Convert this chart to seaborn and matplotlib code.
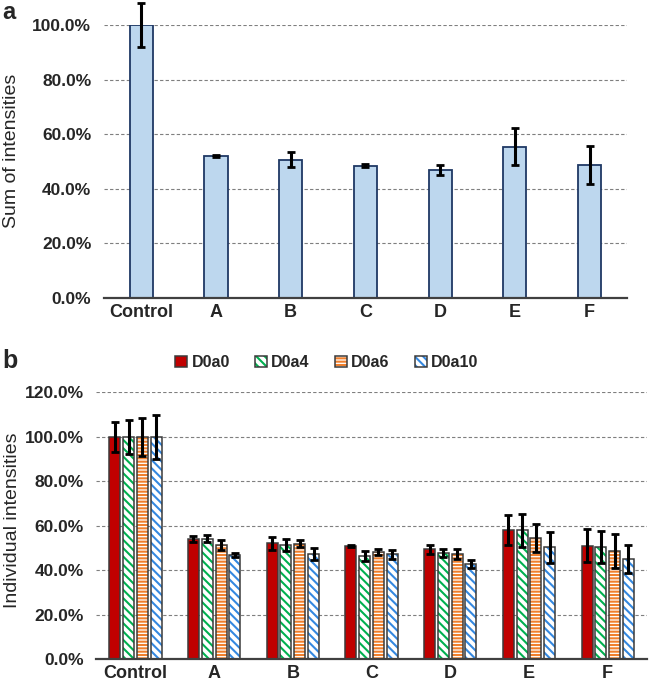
import matplotlib
matplotlib.use("Agg")
import matplotlib.pyplot as plt
from matplotlib.colors import to_rgba
from matplotlib.ticker import PercentFormatter, MultipleLocator
import pandas as pd
import seaborn as sns

# ---- Data (fraction of control) ----
GROUPS = ["Control", "A", "B", "C", "D", "E", "F"]

SUM_MEAN = [1.000, 0.520, 0.507, 0.485, 0.469, 0.554, 0.488]
SUM_ERR = [0.080, 0.005, 0.027, 0.005, 0.017, 0.067, 0.069]

SERIES = ["D0a0", "D0a4", "D0a6", "D0a10"]
D0A0_MEAN = [1.000, 0.541, 0.521, 0.508, 0.494, 0.580, 0.511]
D0A0_ERR = [0.068, 0.015, 0.030, 0.005, 0.020, 0.067, 0.075]
D0A4_MEAN = [1.000, 0.542, 0.512, 0.464, 0.476, 0.579, 0.503]
D0A4_ERR = [0.076, 0.016, 0.027, 0.022, 0.018, 0.075, 0.072]
D0A6_MEAN = [1.000, 0.514, 0.520, 0.481, 0.473, 0.545, 0.488]
D0A6_ERR = [0.086, 0.024, 0.015, 0.013, 0.023, 0.061, 0.076]
D0A10_MEAN = [1.000, 0.469, 0.473, 0.472, 0.428, 0.503, 0.449]
D0A10_ERR = [0.098, 0.008, 0.026, 0.020, 0.017, 0.068, 0.063]

# ---- Style ----
sns.set_style("white")
plt.rcParams["font.family"] = ["Liberation Sans", "DejaVu Sans"]
plt.rcParams["hatch.linewidth"] = 1.5

FILL = {"D0a0": "#C00000", "D0a4": "white", "D0a6": "white", "D0a10": "white"}
HATCH = {"D0a0": "", "D0a4": "\\\\\\\\", "D0a6": "-----", "D0a10": "\\\\\\\\"}
HATCH_COLOR = {"D0a0": "#C00000", "D0a4": "#00B050", "D0a6": "#F07F2C", "D0a10": "#3488E0"}
EDGE = "#3A3A3A"


def set_hatch_color(patch, color):
    # matplotlib ties hatch colour to the edge colour; keep the dark outline
    if hasattr(patch, "set_hatchcolor"):
        patch.set_hatchcolor(color)
    else:
        patch._hatch_color = to_rgba(color)
        patch.stale = True


def style_axis(ax, ylabel, top):
    ax.set_ylim(0, top)
    ax.set_xlim(-0.5, 6.5)
    ax.yaxis.set_major_locator(MultipleLocator(0.2))
    ax.yaxis.set_major_formatter(PercentFormatter(1.0, decimals=1))
    ax.yaxis.grid(True, linestyle=(0, (3, 2)), color="#7F7F7F", linewidth=0.8)
    ax.set_axisbelow(True)
    for side in ["left", "top", "right"]:
        ax.spines[side].set_visible(False)
    ax.spines["bottom"].set_color("#404040")
    ax.spines["bottom"].set_linewidth(1.6)
    ax.tick_params(axis="y", length=0, labelsize=12.5, pad=9)
    ax.tick_params(axis="x", length=0, labelsize=13, pad=4)
    for lbl in ax.get_xticklabels() + ax.get_yticklabels():
        lbl.set_fontweight("bold")
    ax.set_xlabel("")
    ax.set_ylabel(ylabel, fontsize=14)


fig = plt.figure(figsize=(6.49, 6.81), dpi=100)
ax_a = fig.add_axes([0.160, 0.5624, 0.806, 0.4009])
ax_b = fig.add_axes([0.148, 0.0319, 0.849, 0.392])

# ---- Panel a: sum of intensities ----
df_a = pd.DataFrame({"group": GROUPS, "value": SUM_MEAN})
sns.barplot(data=df_a, x="group", y="value", color="#BDD7EE", saturation=1,
            edgecolor="#1F3864", linewidth=1.3, width=0.31, errorbar=None, ax=ax_a)
xs = [p.get_x() + p.get_width() / 2 for p in ax_a.patches]
ax_a.errorbar(xs, SUM_MEAN, yerr=SUM_ERR, fmt="none", ecolor="black",
              elinewidth=2.2, capsize=3, capthick=2, clip_on=False, zorder=4)
style_axis(ax_a, "Sum of intensities", 1.0)
ax_a.yaxis.set_label_coords(-0.160, 0.54)

# ---- Panel b: individual intensities ----
means = [D0A0_MEAN, D0A4_MEAN, D0A6_MEAN, D0A10_MEAN]
errs = [D0A0_ERR, D0A4_ERR, D0A6_ERR, D0A10_ERR]
df_b = pd.DataFrame({
    "group": GROUPS * len(SERIES),
    "series": [s for s in SERIES for _ in GROUPS],
    "value": [v for m in means for v in m],
})
sns.barplot(data=df_b, x="group", y="value", hue="series", hue_order=SERIES,
            palette=FILL, saturation=1, edgecolor=EDGE, linewidth=1.1,
            width=0.7, gap=0.2, errorbar=None, legend=False, ax=ax_b)

for name, cont, m, e in zip(SERIES, ax_b.containers, means, errs):
    for p in cont:
        p.set_hatch(HATCH[name])
        set_hatch_color(p, HATCH_COLOR[name])
    cx = [p.get_x() + p.get_width() / 2 for p in cont]
    ax_b.errorbar(cx, m, yerr=e, fmt="none", ecolor="black", elinewidth=2.2,
                  capsize=3, capthick=2, zorder=4)

style_axis(ax_b, "Individual intensities", 1.2)
ax_b.yaxis.set_label_coords(-0.137, 0.52)

leg = fig.legend(handles=list(ax_b.containers), labels=SERIES, loc="center",
                 bbox_to_anchor=(0.504, 0.467), ncol=4, frameon=False,
                 handlelength=0.7, handleheight=0.7, handletextpad=0.3,
                 columnspacing=1.6, prop={"weight": "bold", "size": 11.5})
for name, h in zip(SERIES, leg.legend_handles):
    h.set_hatch(HATCH[name])
    set_hatch_color(h, HATCH_COLOR[name])

fig.text(0.004, 0.999, "a", fontsize=17, fontweight="bold", va="top")
fig.text(0.004, 0.4596, "b", fontsize=18, fontweight="bold", va="baseline")

fig.savefig("out.png", dpi=100)
